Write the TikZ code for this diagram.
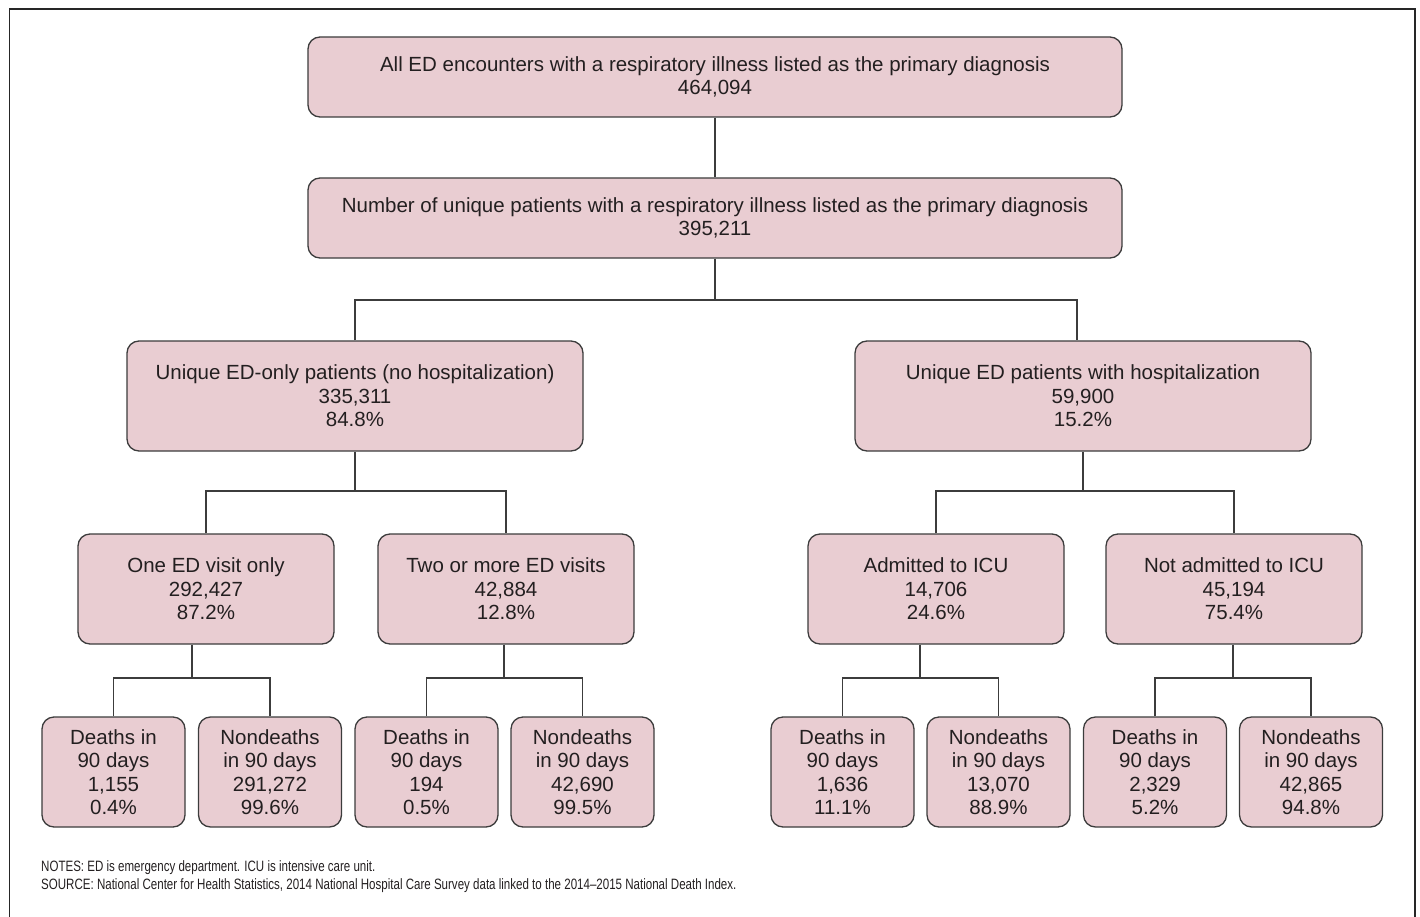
\documentclass[tikz,border=0pt]{standalone}
\usepackage{fontspec}
\setmainfont{Liberation Sans}
\newfontfamily\notefont[FakeStretch=0.77]{Liberation Sans}
\definecolor{boxfill}{HTML}{E9CDD2}
\definecolor{boxline}{HTML}{3C3C3C}
\definecolor{txt}{HTML}{231F20}
\begin{document}
\begin{tikzpicture}[x=1pt,y=-1pt,
  box/.style={draw=boxline, fill=boxfill, line width=1.3pt, rounded corners=12pt,
    inner sep=0pt, align=center, text=txt,
    font=\fontsize{20.5}{23.5}\selectfont},
  big/.style={box, minimum width=814, minimum height=80},
  mid/.style={box, minimum width=456, minimum height=110},
  lvl/.style={box, minimum width=256, minimum height=110},
  leaf/.style={box, minimum width=143, minimum height=110},
  conn/.style={draw=boxline, line width=1.3pt},
  note/.style={anchor=base west, inner sep=0pt, text=txt, font=\notefont\fontsize{15}{17}\selectfont}]
\useasboundingbox (0,0) rectangle (1420,917);
\draw[line width=1.2pt, draw=black!85] (9.5,960) -- (9.5,9) -- (1415,9) -- (1415,960);

\node[big] (t1) at (715,77) {All ED encounters with a respiratory illness listed as the primary diagnosis\\464,094};
\node[big] (t2) at (715,218) {Number of unique patients with a respiratory illness listed as the primary diagnosis\\395,211};

\node[mid] (m1) at (355,396) {Unique ED-only patients (no hospitalization)\\335,311\\84.8\%};
\node[mid] (m2) at (1083,396) {Unique ED patients with hospitalization\\59,900\\15.2\%};

\node[lvl] (a) at (206,589) {One ED visit only\\292,427\\87.2\%};
\node[lvl] (b) at (506,589) {Two or more ED visits\\42,884\\12.8\%};
\node[lvl] (c) at (936,589) {Admitted to ICU\\14,706\\24.6\%};
\node[lvl] (d) at (1234,589) {Not admitted to ICU\\45,194\\75.4\%};

\node[leaf] (a1) at (113.5,772) {Deaths in\\90 days\\1,155\\0.4\%};
\node[leaf] (a2) at (270,772) {Nondeaths\\in 90 days\\291,272\\99.6\%};
\node[leaf] (b1) at (426.5,772) {Deaths in\\90 days\\194\\0.5\%};
\node[leaf] (b2) at (582.5,772) {Nondeaths\\in 90 days\\42,690\\99.5\%};
\node[leaf] (c1) at (842.5,772) {Deaths in\\90 days\\1,636\\11.1\%};
\node[leaf] (c2) at (998.5,772) {Nondeaths\\in 90 days\\13,070\\88.9\%};
\node[leaf] (d1) at (1155,772) {Deaths in\\90 days\\2,329\\5.2\%};
\node[leaf] (d2) at (1311,772) {Nondeaths\\in 90 days\\42,865\\94.8\%};

% connectors
\draw[conn] (t1.south) -- (t2.north);
\draw[conn] (t2.south) -- (t2.south |- 0,300);
\draw[conn] (m1.north) -- (m1.north |- 0,300) -- ([xshift=-6pt]m2.north |- 0,300) -- ([xshift=-6pt]m2.north);

\draw[conn] (m1.south) -- (m1.south |- 0,491);
\draw[conn] (a.north) -- (a.north |- 0,491) -- (b.north |- 0,491) -- (b.north);
\draw[conn] (m2.south) -- (m2.south |- 0,491);
\draw[conn] (c.north) -- (c.north |- 0,491) -- (d.north |- 0,491) -- (d.north);

\draw[conn] ([xshift=-14pt]a.south) -- ([xshift=-14pt]a.south |- 0,678);
\draw[conn] (a1.north) -- (a1.north |- 0,678) -- (a2.north |- 0,678) -- (a2.north);
\draw[conn] ([xshift=-2pt]b.south) -- ([xshift=-2pt]b.south |- 0,678);
\draw[conn] (b1.north) -- (b1.north |- 0,678) -- (b2.north |- 0,678) -- (b2.north);
\draw[conn] ([xshift=-16pt]c.south) -- ([xshift=-16pt]c.south |- 0,678);
\draw[conn] (c1.north) -- (c1.north |- 0,678) -- (c2.north |- 0,678) -- (c2.north);
\draw[conn] ([xshift=-1pt]d.south) -- ([xshift=-1pt]d.south |- 0,678);
\draw[conn] (d1.north) -- (d1.north |- 0,678) -- (d2.north |- 0,678) -- (d2.north);

\node[note] (notes) at (41,871) {NOTES: ED is emergency department. ICU is intensive care unit.};
\node[note] (source) at (41,889) {SOURCE: National Center for Health Statistics, 2014 National Hospital Care Survey data linked to the 2014–2015 National Death Index.};
\end{tikzpicture}
\end{document}
